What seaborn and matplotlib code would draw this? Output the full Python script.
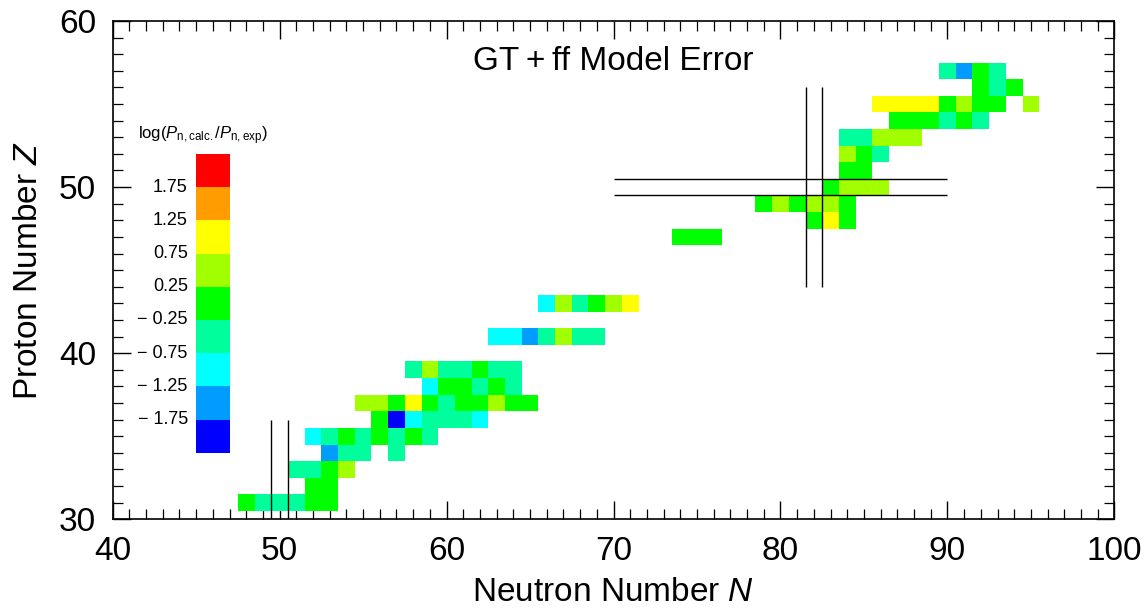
import numpy as np
import pandas as pd
import matplotlib
matplotlib.use("Agg")
import matplotlib.pyplot as plt
from matplotlib.colors import ListedColormap, BoundaryNorm
from matplotlib.ticker import MultipleLocator
from matplotlib.transforms import Affine2D
import seaborn as sns

# one entry per nucleus, listed row by row from Z=31 up to Z=57
neutron_n = [48, 49, 50, 51, 52, 53,
             52, 53,
             51, 52, 53, 54,
             53, 54, 55, 57,
             52, 53, 54, 55, 56, 57, 58, 59,
             56, 57, 58, 59, 60, 61, 62,
             55, 56, 57, 58, 59, 60, 61, 62, 63, 64, 65,
             59, 60, 61, 62, 63, 64,
             58, 59, 60, 61, 62, 63, 64,
             63, 64, 65, 66, 67, 68, 69,
             66, 67, 68, 69, 70, 71,
             74, 75, 76,
             82, 83, 84,
             79, 80, 81, 82, 83, 84,
             83, 84, 85, 86,
             84, 85,
             84, 85, 86,
             84, 85, 86, 87, 88,
             87, 88, 89, 90, 91, 92,
             86, 87, 88, 89, 90, 91, 92, 93, 95,
             92, 93, 94,
             90, 91, 92, 93]
proton_z = [31, 31, 31, 31, 31, 31,
            32, 32,
            33, 33, 33, 33,
            34, 34, 34, 34,
            35, 35, 35, 35, 35, 35, 35, 35,
            36, 36, 36, 36, 36, 36, 36,
            37, 37, 37, 37, 37, 37, 37, 37, 37, 37, 37,
            38, 38, 38, 38, 38, 38,
            39, 39, 39, 39, 39, 39, 39,
            41, 41, 41, 41, 41, 41, 41,
            43, 43, 43, 43, 43, 43,
            47, 47, 47,
            48, 48, 48,
            49, 49, 49, 49, 49, 49,
            50, 50, 50, 50,
            51, 51,
            52, 52, 52,
            53, 53, 53, 53, 53,
            54, 54, 54, 54, 54, 54,
            55, 55, 55, 55, 55, 55, 55, 55, 55,
            56, 56, 56,
            57, 57, 57, 57]
# log(Pn,calc / Pn,exp)
log_ratio = [0.0, -0.5, -0.5, -0.5, 0.0, 0.0,
             0.0, 0.0,
             -0.5, -0.5, 0.0, 0.5,
             -1.5, -0.5, -0.5, -0.5,
             -1.0, -0.5, 0.0, -0.5, 0.0, -0.5, 0.0, -0.5,
             0.0, -2.0, -1.0, -0.5, -0.5, -0.5, -1.0,
             0.5, 0.5, 0.0, 1.0, 0.0, -0.5, 0.0, 0.0, 0.5, 0.0, 0.0,
             -1.0, 0.0, 0.0, -0.5, 0.0, -0.5,
             -0.5, 0.5, -0.5, -0.5, 0.0, -0.5, -0.5,
             -1.0, -1.0, -1.5, -0.5, 0.5, -0.5, -0.5,
             -1.0, 0.5, -0.5, 0.0, 0.5, 1.0,
             0.0, 0.0, 0.0,
             0.0, 1.0, 0.0,
             0.0, 0.5, 0.0, 0.5, 0.5, 0.0,
             0.0, 0.5, 0.5, 0.5,
             0.0, 0.0,
             0.5, 0.0, -0.5,
             -0.5, -0.5, 0.5, 0.5, 0.5,
             0.0, 0.0, 0.0, -0.5, 0.0, -0.5,
             1.0, 1.0, 1.0, 1.0, 0.0, 0.5, 0.0, 0.0, 0.5,
             0.0, -0.5, 0.0,
             -0.5, -1.5, 0.0, -0.5]

bin_edges = [-2.25, -1.75, -1.25, -0.75, -0.25, 0.25, 0.75, 1.25, 1.75, 2.25]
bin_colors = ["#0000ff", "#009cff", "#00ffff", "#00ff9c", "#00ff00",
              "#a2ff00", "#ffff00", "#ff9c00", "#ff0000"]
cbar_levels = [2.0, 1.5, 1.0, 0.5, 0.0, -0.5, -1.0, -1.5, -2.0]
cbar_ticks = [1.75, 1.25, 0.75, 0.25, -0.25, -0.75, -1.25, -1.75]

sns.set_style("ticks")
plt.rcParams["font.family"] = "Liberation Sans"
plt.rcParams["mathtext.fontset"] = "custom"
plt.rcParams["mathtext.rm"] = "Liberation Sans"
plt.rcParams["mathtext.it"] = "Liberation Sans:italic"
plt.rcParams["axes.unicode_minus"] = True
for key in ["text.color", "axes.labelcolor", "xtick.color", "ytick.color",
            "axes.edgecolor"]:
    plt.rcParams[key] = "black"

cmap = ListedColormap(bin_colors)
norm = BoundaryNorm(bin_edges, cmap.N)

df = pd.DataFrame({"N": neutron_n, "Z": proton_z, "val": log_ratio})
n0, z0 = 39, 29
grid = df.pivot(index="Z", columns="N", values="val")
grid = grid.reindex(index=range(z0, 61), columns=range(n0, 101))

fig = plt.figure(figsize=(11.46, 6.13), dpi=100)
ax = fig.add_axes([0.0983, 0.1529, 0.8741, 0.8128])
sns.heatmap(grid, cmap=cmap, norm=norm, cbar=False, ax=ax,
            xticklabels=False, yticklabels=False)
# put cell centres on integer N, Z
mesh = ax.collections[0]
mesh.set_transform(Affine2D().translate(n0 - 0.5, z0 - 0.5) + ax.transData)

ax.set_xlim(40, 100)
ax.set_ylim(30, 60)
for sp in ax.spines.values():
    sp.set_visible(True)
    sp.set_linewidth(1.2)
    sp.set_color("black")

ax.set_xticks([40, 50, 60, 70, 80, 90, 100])
ax.set_xticklabels(["40", "50", "60", "70", "80", "90", "100"])
ax.set_yticks([30, 40, 50, 60])
ax.set_yticklabels(["30", "40", "50", "60"], rotation=0)
ax.xaxis.set_minor_locator(MultipleLocator(1))
ax.yaxis.set_minor_locator(MultipleLocator(1))
ax.tick_params(which="both", direction="in", top=True, right=True,
               bottom=True, left=True, color="black", labelcolor="black",
               labelsize=24, pad=12)
ax.tick_params(which="major", length=13, width=1.0)
ax.tick_params(which="minor", length=7.5, width=0.9)

ax.set_xlabel("Neutron Number $N$", fontsize=24, labelpad=7)
ax.set_ylabel("Proton Number $Z$", fontsize=24, labelpad=11)

# magic numbers N=50, N=82, Z=50
ax.vlines([49.5, 50.5], 30, 36, color="black", lw=1.0)
ax.vlines([81.5, 82.5], 44, 56, color="black", lw=1.0)
ax.hlines([49.5, 50.5], 70, 90, color="black", lw=1.0)

ax.text(70, 57.05, "GT\u2009+\u2009ff Model Error", fontsize=24,
        ha="center", va="baseline")

# discrete colour key drawn inside the plot
cax = ax.inset_axes([45, 34, 2, 18], transform=ax.transData)
sns.heatmap(pd.DataFrame({"v": cbar_levels}), cmap=cmap, norm=norm, cbar=False,
            ax=cax, xticklabels=False, yticklabels=False)
cax.set_axis_off()
for t in cbar_ticks:
    lab = f"{t:.2f}" if t > 0 else f"\u2212 {abs(t):.2f}"
    ax.text(44.5, 34 + (t + 2.25) * 4, lab, fontsize=13, ha="right", va="center")
ax.text(45.4, 52.9, r"log($P_{\rm n,calc.}$/$P_{\rm n,exp}$)", fontsize=12,
        ha="center", va="baseline")

fig.savefig("out.png", dpi=100)
